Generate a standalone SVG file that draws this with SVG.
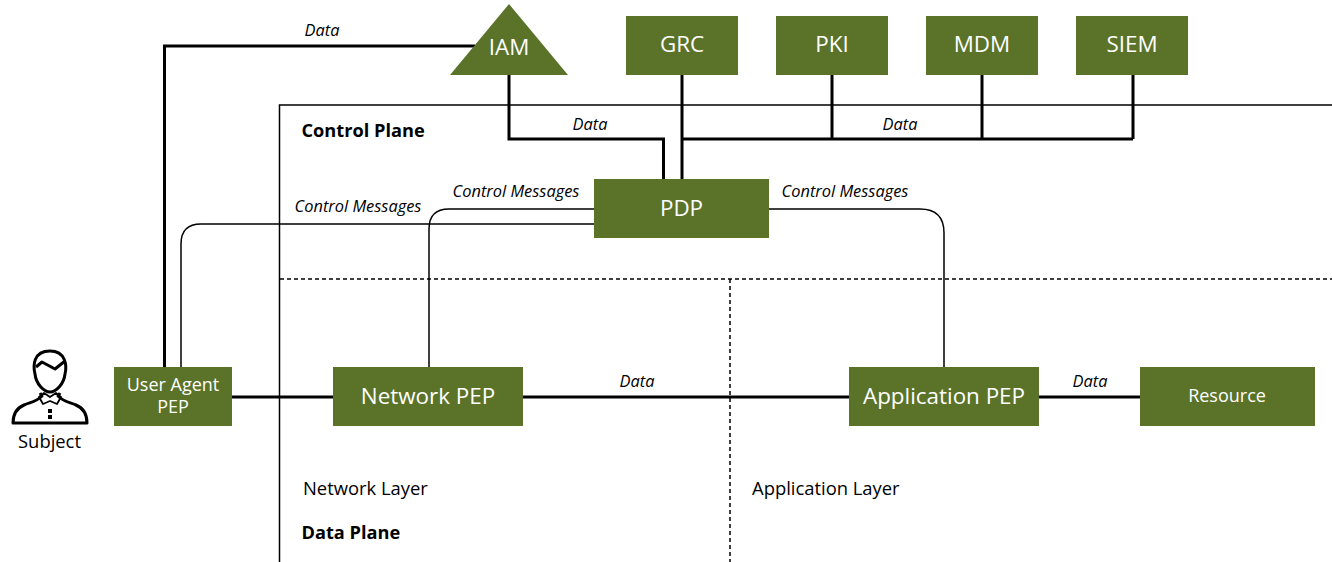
<svg xmlns="http://www.w3.org/2000/svg" width="1332" height="562" viewBox="0 0 1332 562">
<style>
text{font-family:"Open Sans","Noto Sans",sans-serif;fill:#000}
.n{fill:#5a7329}
.w{fill:#fff;text-anchor:middle}
.i{font-style:italic;font-size:16.400px;text-anchor:middle}
.b{font-weight:700;font-size:18.200px}
.l{font-size:18.400px}
.t{fill:none;stroke:#000;stroke-width:3}
.s{fill:none;stroke:#000;stroke-width:1.5}
.d{fill:none;stroke:#000;stroke-width:1.5;stroke-dasharray:4 3}
.p{fill:none;stroke:#000;stroke-width:3;stroke-linejoin:round}
.q{fill:none;stroke:#000;stroke-width:1.800;stroke-linejoin:round}
</style>
<rect width="1332" height="562" fill="#fff"/>
<g id="connectors">
<path class="s" d="M1332 105H279.500V562"/>
<path class="d" d="M280 279H1332M730 279V562"/>
<path class="t" d="M164.500 367V46H475"/>
<path class="t" d="M509 70V139H663.500V180"/>
<path class="t" d="M682 70V180M682 139H1133M832 70V139M982 70V139M1133 70V139"/>
<path class="s" d="M181 367V244Q181 224 201 224H595"/>
<path class="s" d="M429 367V229Q429 209 449 209H595"/>
<path class="s" d="M768 209H920Q944 209 944 233V367"/>
<path class="t" d="M232 397H333M523 397H850M1039 397H1140"/>
</g>
<g id="iam"><polygon class="n" points="509,4 568,75 450,75"/><text class="w" x="509" y="55" font-size="22.400">IAM</text></g>
<g id="grc"><rect class="n" x="626" y="16" width="112" height="59"/><text class="w" x="682" y="52" font-size="22.400">GRC</text></g>
<g id="pki"><rect class="n" x="776" y="16" width="112" height="59"/><text class="w" x="832" y="52" font-size="22.400">PKI</text></g>
<g id="mdm"><rect class="n" x="926" y="16" width="112" height="59"/><text class="w" x="982" y="52" font-size="22.400">MDM</text></g>
<g id="siem"><rect class="n" x="1076" y="16" width="112" height="59"/><text class="w" x="1132" y="52" font-size="22.400">SIEM</text></g>
<g id="pdp"><rect class="n" x="594" y="179" width="175" height="59"/><text class="w" x="681.500" y="215.500" font-size="22.400">PDP</text></g>
<g id="user-agent-pep"><rect class="n" x="114" y="367" width="118" height="59"/><text class="w" x="173" y="391" font-size="18">User Agent</text><text class="w" x="173" y="413" font-size="18">PEP</text></g>
<g id="network-pep"><rect class="n" x="333" y="367" width="190" height="59"/><text class="w" x="428" y="404" font-size="22.400">Network PEP</text></g>
<g id="application-pep"><rect class="n" x="849" y="367" width="190" height="59"/><text class="w" x="944" y="404" font-size="22.400">Application PEP</text></g>
<g id="resource"><rect class="n" x="1140" y="367" width="175" height="59"/><text class="w" x="1227" y="402" font-size="18">Resource</text></g>
<g id="subject">
<path class="p" d="M35 374C33 366 33 351 50 351C66 351 67 366 65 374C64 384 56 392 50 392C44 392 36 384 35 374Z"/>
<path class="p" d="M36 367L42 362L55 369L65 361"/>
<path class="p" d="M40 393L42 396C36 402 31 402 24 405C17 408 13 414 13 423H87C87 414 83 408 76 405C69 402 64 402 58 396L60 393"/>
<path class="q" d="M39 397L44 393L50 397L56 393L61 397L57 404L50 401L43 404Z"/>
<rect x="48" y="409" width="4" height="4"/><rect x="48" y="415" width="4" height="4"/>
<text x="49.500" y="448" font-size="18.400" text-anchor="middle">Subject</text>
</g>
<g id="labels">
<text class="i" x="322" y="36">Data</text>
<text class="i" x="590" y="130">Data</text>
<text class="i" x="900" y="130">Data</text>
<text class="i" x="358" y="212">Control Messages</text>
<text class="i" x="516" y="197">Control Messages</text>
<text class="i" x="845" y="197">Control Messages</text>
<text class="i" x="637" y="387">Data</text>
<text class="i" x="1090" y="387">Data</text>
<text class="b" x="301.500" y="137">Control Plane</text>
<text class="b" x="301.500" y="539">Data Plane</text>
<text class="l" x="303" y="495">Network Layer</text>
<text class="l" x="752" y="495">Application Layer</text>
</g>
</svg>
